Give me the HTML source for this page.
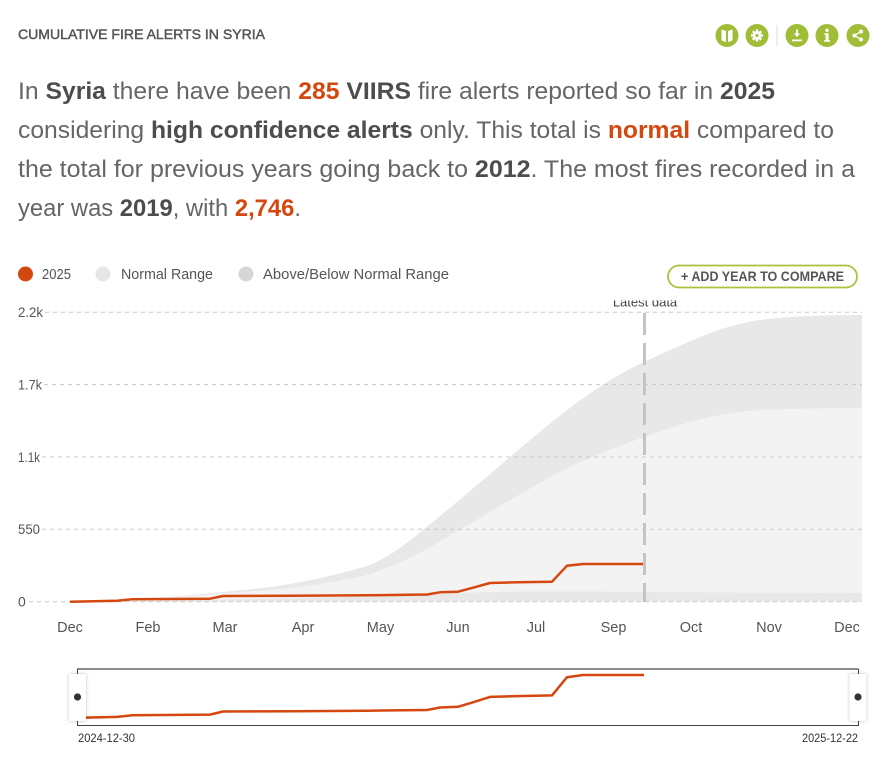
<!DOCTYPE html>
<html>
<head>
<meta charset="utf-8">
<style>
html,body{margin:0;padding:0;background:#fff;}
svg{display:block;font-family:"Liberation Sans",sans-serif;}
</style>
</head>
<body>
<svg width="893" height="760" viewBox="0 0 893 760" xmlns="http://www.w3.org/2000/svg">
<defs>
  <clipPath id="latestClip"><rect x="580" y="300.5" width="140" height="20"/></clipPath>
  <clipPath id="navClip"><rect x="78" y="670" width="780" height="55"/></clipPath>
  <filter id="sh" x="-50%" y="-20%" width="200%" height="140%">
    <feDropShadow dx="0" dy="0" stdDeviation="1.5" flood-color="#000" flood-opacity="0.25"/>
  </filter>
</defs>

<!-- Title -->
<text x="18" y="39" font-size="14" fill="#555" stroke="#555" stroke-width="0.45" textLength="247" lengthAdjust="spacingAndGlyphs">CUMULATIVE FIRE ALERTS IN SYRIA</text>

<!-- Icons -->
<g>
  <circle cx="727" cy="35.5" r="11.5" fill="#a0bd38"/>
  <path d="M721.5 29.5 L726 31 L726 42 L721.5 40.5 Z M728 31 L732.5 29.5 L732.5 40.5 L728 42 Z" fill="#fff"/>
  <circle cx="757" cy="35.5" r="11.5" fill="#a0bd38"/>
  <g fill="#fff">
    <circle cx="757" cy="35.5" r="4.2"/>
    <rect x="755.8" y="29.5" width="2.4" height="12" />
    <rect x="751" y="34.3" width="12" height="2.4" />
    <rect x="755.8" y="29.5" width="2.4" height="12" transform="rotate(45 757 35.5)"/>
    <rect x="755.8" y="29.5" width="2.4" height="12" transform="rotate(-45 757 35.5)"/>
  </g>
  <circle cx="757" cy="35.5" r="1.6" fill="#a0bd38"/>
  <line x1="777" y1="25" x2="777" y2="46" stroke="#ddd" stroke-width="1"/>
  <circle cx="797" cy="35.5" r="11.5" fill="#a0bd38"/>
  <path d="M797 29.5 L797 36" stroke="#fff" stroke-width="1.8"/>
  <path d="M793.8 33.5 L797 37 L800.2 33.5 Z" fill="#fff"/>
  <rect x="792" y="39.5" width="10" height="1.8" fill="#fff"/>
  <circle cx="827" cy="35.5" r="11.5" fill="#a0bd38"/>
  <circle cx="827" cy="30.3" r="1.7" fill="#fff"/>
  <path d="M824.5 33.3 L828.6 33.3 L828.6 40 L830 40 L830 41.7 L824.3 41.7 L824.3 40 L825.6 40 L825.6 35 L824.5 35 Z" fill="#fff"/>
  <circle cx="858" cy="35.5" r="11.5" fill="#a0bd38"/>
  <g fill="#fff" stroke="#fff" stroke-width="1.3">
    <line x1="861" y1="31.5" x2="854.5" y2="35.5"/>
    <line x1="861" y1="39.5" x2="854.5" y2="35.5"/>
    <circle cx="861" cy="31.5" r="2" stroke="none"/>
    <circle cx="861" cy="39.5" r="2" stroke="none"/>
    <circle cx="854.5" cy="35.5" r="2" stroke="none"/>
  </g>
</g>

<!-- Paragraph -->
<g font-size="24" fill="#666">
  <text x="18" y="99" textLength="757" lengthAdjust="spacingAndGlyphs">In <tspan font-weight="bold" fill="#4d4d4d">Syria</tspan> there have been <tspan font-weight="bold" fill="#d4470f">285</tspan> <tspan font-weight="bold" fill="#4d4d4d">VIIRS</tspan> fire alerts reported so far in <tspan font-weight="bold" fill="#4d4d4d">2025</tspan></text>
  <text x="18" y="138" textLength="816" lengthAdjust="spacingAndGlyphs">considering <tspan font-weight="bold" fill="#4d4d4d">high confidence alerts</tspan> only. This total is <tspan font-weight="bold" fill="#d4470f">normal</tspan> compared to</text>
  <text x="18" y="177" textLength="837" lengthAdjust="spacingAndGlyphs">the total for previous years going back to <tspan font-weight="bold" fill="#4d4d4d">2012</tspan>. The most fires recorded in a</text>
  <text x="18" y="216" textLength="283" lengthAdjust="spacingAndGlyphs">year was <tspan font-weight="bold" fill="#4d4d4d">2019</tspan>, with <tspan font-weight="bold" fill="#d4470f">2,746</tspan>.</text>
</g>

<!-- Legend -->
<g font-size="14.5" fill="#555">
  <circle cx="25.5" cy="274" r="7.5" fill="#d4470f"/>
  <text x="42" y="279" textLength="29" lengthAdjust="spacingAndGlyphs">2025</text>
  <circle cx="103" cy="274" r="7.5" fill="#e6e6e6"/>
  <text x="121" y="279" textLength="92" lengthAdjust="spacingAndGlyphs">Normal Range</text>
  <circle cx="246" cy="274" r="7.5" fill="#d6d6d6"/>
  <text x="263" y="279" textLength="186" lengthAdjust="spacingAndGlyphs">Above/Below Normal Range</text>
</g>

<!-- Button -->
<rect x="668" y="265.5" width="189" height="22" rx="11" ry="11" fill="#fff" stroke="#a8c43c" stroke-width="1.8"/>
<text x="681" y="281" font-size="14" font-weight="bold" fill="#555" textLength="163" lengthAdjust="spacingAndGlyphs">+ ADD YEAR TO COMPARE</text>

<!-- Bands -->
<path fill="#e8e8e8" d="M70 601.7
  C100 600.5 130 599 167 597
  C200 594.5 233 591 267 587.5
  C300 583 333 576 367 566
  C385 559 400 549 423 530
  C445 512 475 487 510 457
  C530 440 550 423 575 404
  C600 386 620 373 644 362
  C670 350 690 341 710 333
  C730 326 745 322 760 320
  C785 316.5 820 315 862 315
  L862 601.7 Z"/>
<path fill="#f3f3f3" d="M70 601.5
  C100 600.5 130 599 180 596.5
  C233 593 270 590 300 587
  C333 582 350 579 367 575
  C385 569 400 563 420 553
  C435 545 450 535 480 518
  C500 506 510 500 550 477
  C575 464 600 453 644 437
  C675 426 695 420 710 417
  C735 412 750 410.5 760 410
  C800 408.5 830 408 862 408
  L862 593
  C800 592.8 700 592.5 644 592
  C600 591.5 560 591.5 520 591.5
  C490 592 470 592.5 460 593
  C430 595 400 596 350 597
  C300 598 250 599.5 200 600
  C150 601 100 601.5 70 601.7 Z"/>

<!-- Gridlines -->
<g stroke="#c8c8c8" stroke-width="1" stroke-dasharray="4 4">
  <line x1="45" y1="312.3" x2="862" y2="312.3"/>
  <line x1="44" y1="384.6" x2="862" y2="384.6"/>
  <line x1="42" y1="457" x2="862" y2="457"/>
  <line x1="42" y1="529.3" x2="862" y2="529.3"/>
  <line x1="29" y1="601.7" x2="862" y2="601.7"/>
</g>

<!-- Y labels -->
<g font-size="14" fill="#555">
  <text x="18" y="317" textLength="25" lengthAdjust="spacingAndGlyphs">2.2k</text>
  <text x="18" y="389.5" textLength="24" lengthAdjust="spacingAndGlyphs">1.7k</text>
  <text x="18" y="462" textLength="22" lengthAdjust="spacingAndGlyphs">1.1k</text>
  <text x="18" y="534" textLength="22" lengthAdjust="spacingAndGlyphs">550</text>
  <text x="18" y="606.5">0</text>
</g>

<!-- X labels -->
<g font-size="14.5" fill="#555" text-anchor="middle">
  <text x="70" y="632">Dec</text>
  <text x="148" y="632">Feb</text>
  <text x="225" y="632">Mar</text>
  <text x="303" y="632">Apr</text>
  <text x="380.5" y="632">May</text>
  <text x="458" y="632">Jun</text>
  <text x="536" y="632">Jul</text>
  <text x="613.5" y="632">Sep</text>
  <text x="691" y="632">Oct</text>
  <text x="769" y="632">Nov</text>
  <text x="847" y="632">Dec</text>
</g>

<!-- 2025 line -->
<polyline fill="none" stroke="#d4470f" stroke-width="2.5" stroke-linejoin="round"
  points="70,601.7 117,600.7 132,599.3 210,598.7 223,596 293,595.7 367,595.3 427,594.5 440,592.3 458,591.7 473,587.7 490,583 517,582.3 552,581.7 567,565.7 583,564 644,564"/>

<!-- Latest data line -->
<line x1="644.5" y1="313" x2="644.5" y2="602" stroke="#c4c4c4" stroke-width="3" stroke-dasharray="22 8"/>
<text x="645" y="306.5" font-size="13" fill="#444" text-anchor="middle" clip-path="url(#latestClip)">Latest data</text>

<!-- Navigator -->
<line x1="77" y1="669" x2="858.5" y2="669" stroke="#666" stroke-width="1.6"/>
<line x1="77.5" y1="669" x2="77.5" y2="725.5" stroke="#444" stroke-width="1"/>
<line x1="858.5" y1="669" x2="858.5" y2="725.5" stroke="#444" stroke-width="1"/>
<line x1="77" y1="725.5" x2="859" y2="725.5" stroke="#444" stroke-width="1"/>
<g clip-path="url(#navClip)">
<polyline fill="none" stroke="#d4470f" stroke-width="2.5" stroke-linejoin="round"
  points="70,718 117,716.9 132,715.3 210,714.6 223,711.5 293,711.2 367,710.7 427,710 440,707.5 458,706.8 473,702.3 490,696.9 517,696.1 552,695.4 567,677.2 583,675 644,675"/>
</g>
<rect x="69" y="674" width="17" height="47" fill="#fff" filter="url(#sh)"/>
<circle cx="77.5" cy="697" r="3.6" fill="#333"/>
<rect x="849.5" y="674" width="17" height="47" fill="#fff" filter="url(#sh)"/>
<circle cx="858" cy="697" r="3.6" fill="#333"/>
<text x="78" y="742" font-size="12" fill="#333" textLength="57" lengthAdjust="spacingAndGlyphs">2024-12-30</text>
<text x="802" y="742" font-size="12" fill="#333" textLength="56" lengthAdjust="spacingAndGlyphs">2025-12-22</text>
</svg>
</body>
</html>
